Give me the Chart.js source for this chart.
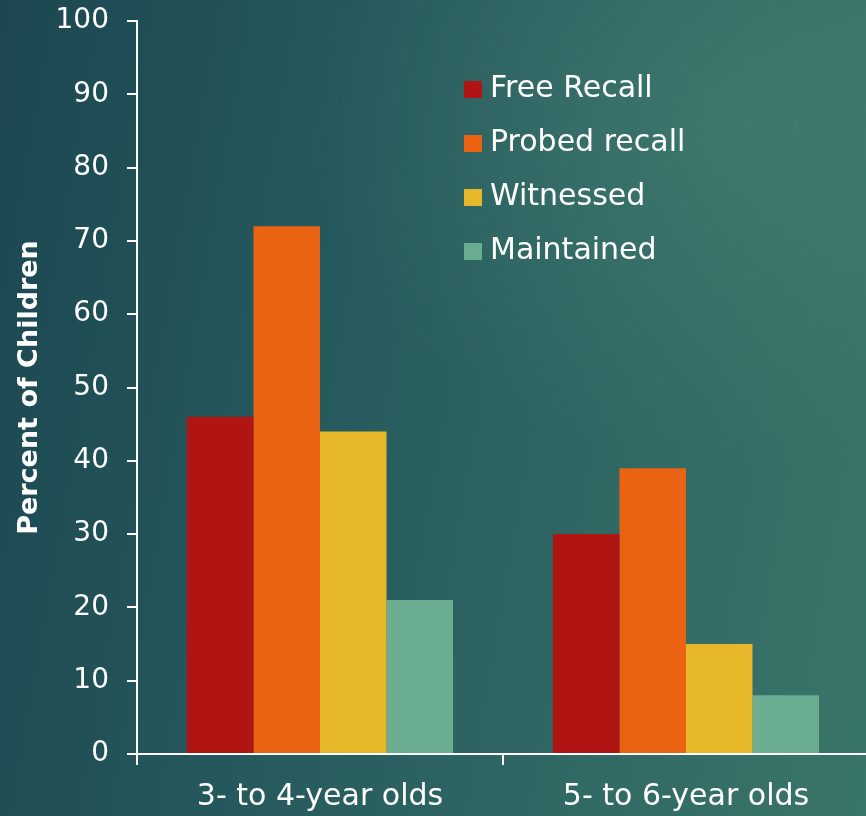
<!DOCTYPE html>
<html>
<head>
<meta charset="utf-8">
<script src="https://cdn.jsdelivr.net/npm/chart.js@4.4.1/dist/chart.umd.min.js"></script>
<style>
  html, body { margin: 0; padding: 0; overflow: hidden; width: 866px; height: 816px; }
  body {
    background:
      radial-gradient(ellipse 70% 60% at 85% 15%, rgba(90,150,130,0.30), rgba(90,150,130,0) 70%),
      linear-gradient(100deg, #1c4751 0%, #25585c 35%, #2f6663 65%, #3a7569 100%);
  }
  #wrap { position: absolute; left: 0; top: 0; width: 869px; height: 816px; }
</style>
</head>
<body>
<div id="wrap"><canvas id="c" width="869" height="816"></canvas></div>
<script>
// Age groups on the x axis
const categories = ['3- to 4-year olds', '5- to 6-year olds'];

// Percent of children per measure
const freeRecall   = [46, 30];
const probedRecall = [72, 39];
const witnessed    = [44, 15];
const maintained   = [21, 8];

const seriesNames  = ['Free Recall', 'Probed recall', 'Witnessed', 'Maintained'];
const seriesColors = ['#b01513', '#ea6312', '#e6b729', '#6aad91'];

const yTicks = [0, 10, 20, 30, 40, 50, 60, 70, 80, 90, 100];

const FONT = '"DejaVu Sans", sans-serif';

// Legend drawn as a block inside the plot area
const sideLegend = {
  id: 'sideLegend',
  afterDraw(chart) {
    const ctx = chart.ctx;
    ctx.save();
    ctx.font = '30px ' + FONT;
    ctx.textBaseline = 'middle';
    ctx.textAlign = 'left';
    chart.data.datasets.forEach((ds, i) => {
      const cy = 89 + i * 54;
      ctx.fillStyle = ds.backgroundColor;
      ctx.fillRect(464, cy - 8, 18, 17);
      ctx.fillStyle = '#ffffff';
      ctx.fillText(ds.label, 490, cy);
    });
    ctx.restore();
  }
};

const seriesValues = [freeRecall, probedRecall, witnessed, maintained];

new Chart(document.getElementById('c'), {
  type: 'bar',
  data: {
    labels: categories,
    datasets: seriesNames.map((name, i) => ({
      label: name,
      data: seriesValues[i],
      backgroundColor: seriesColors[i],
      borderWidth: 0,
      barPercentage: 1.0,
      categoryPercentage: 0.727
    }))
  },
  options: {
    responsive: false,
    animation: false,
    layout: { padding: { top: 21, right: 0, bottom: 0, left: 0 } },
    plugins: {
      legend: { display: false },
      tooltip: { enabled: false }
    },
    scales: {
      x: {
        afterFit(scale) { scale.height = 62; },
        border: { display: true, color: '#ffffff', width: 2 },
        grid: {
          display: true,
          drawOnChartArea: false,
          drawTicks: true,
          tickLength: 11,
          color: '#ffffff',
          lineWidth: 2,
          offset: true
        },
        ticks: {
          color: '#ffffff',
          font: { family: FONT, size: 30 },
          padding: 14,
          maxRotation: 0
        }
      },
      y: {
        min: 0,
        max: 100,
        afterFit(scale) {
          scale.width = 137;
          scale.paddingTop = 0;
          scale.paddingBottom = 0;
        },
        afterBuildTicks(scale) { scale.ticks = yTicks.map(v => ({ value: v })); },
        border: { display: true, color: '#ffffff', width: 2 },
        grid: {
          display: true,
          drawOnChartArea: false,
          drawTicks: true,
          tickLength: 10,
          color: '#ffffff',
          lineWidth: 2
        },
        ticks: {
          color: '#ffffff',
          font: { family: FONT, size: 28 },
          padding: 18
        },
        title: {
          display: true,
          text: 'Percent of Children',
          color: '#ffffff',
          font: { family: FONT, size: 27, weight: 'bold' },
          padding: { top: 14, bottom: 0 }
        }
      }
    }
  },
  plugins: [sideLegend]
});
</script>
</body>
</html>
